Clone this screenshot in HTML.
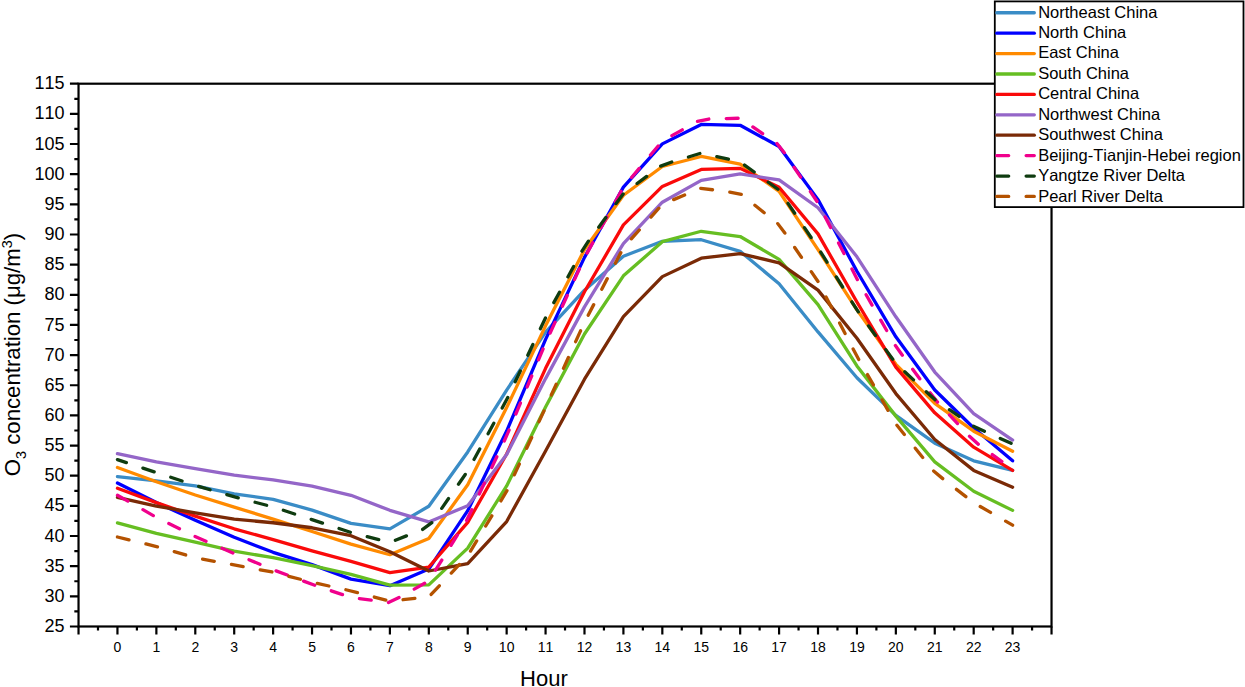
<!DOCTYPE html>
<html><head><meta charset="utf-8"><title>O3 diurnal variation</title>
<style>html,body{margin:0;padding:0;background:#fff;overflow:hidden}svg{display:block}text{font-kerning:none}</style>
</head><body>
<svg width="1245" height="687" viewBox="0 0 1245 687">
<rect x="0" y="0" width="1245" height="687" fill="#fff"/>
<polyline points="117.45,476.68 156.37,480.90 195.29,485.97 234.21,493.81 273.13,499.30 312.05,510.09 350.97,523.36 389.89,528.85 428.81,506.29 467.73,451.95 506.65,390.07 545.57,332.18 584.49,290.20 623.41,256.19 662.33,241.29 701.25,239.72 740.17,251.36 779.09,283.69 818.01,331.94 856.93,377.71 895.85,415.40 934.77,443.21 973.69,460.82 1012.61,470.41" fill="none" stroke="#3a8cc6" stroke-width="3.3" stroke-linejoin="round" stroke-linecap="round"/>
<polyline points="117.45,483.07 156.37,502.49 195.29,520.34 234.21,537.23 273.13,552.31 312.05,564.67 350.97,579.15 389.89,585.66 428.81,569.07 467.73,510.69 506.65,431.09 545.57,339.41 584.49,257.39 623.41,187.13 662.33,143.89 701.25,124.41 740.17,125.31 779.09,146.48 818.01,199.62 856.93,271.26 895.85,336.82 934.77,389.95 973.69,428.01 1012.61,460.82" fill="none" stroke="#0000ff" stroke-width="3.3" stroke-linejoin="round" stroke-linecap="round"/>
<polyline points="117.45,467.57 156.37,481.75 195.29,495.01 234.21,507.08 273.13,519.14 312.05,531.50 350.97,544.17 389.89,554.72 428.81,538.44 467.73,484.76 506.65,407.56 545.57,325.84 584.49,249.55 623.41,195.27 662.33,166.51 701.25,156.49 740.17,164.03 779.09,191.35 818.01,249.55 856.93,309.86 895.85,364.32 934.77,403.34 973.69,431.21 1012.61,451.17" fill="none" stroke="#ff8a00" stroke-width="3.3" stroke-linejoin="round" stroke-linecap="round"/>
<polyline points="117.45,522.88 156.37,533.31 195.29,542.06 234.21,551.10 273.13,557.74 312.05,565.64 350.97,574.32 389.89,585.18 428.81,584.88 467.73,548.09 506.65,485.97 545.57,406.96 584.49,333.99 623.41,275.85 662.33,241.71 701.25,231.28 740.17,236.53 779.09,259.38 818.01,304.68 856.93,365.95 895.85,416.13 934.77,461.90 973.69,491.21 1012.61,510.39" fill="none" stroke="#66be22" stroke-width="3.3" stroke-linejoin="round" stroke-linecap="round"/>
<polyline points="117.45,488.20 156.37,502.67 195.29,516.12 234.21,528.79 273.13,539.64 312.05,550.80 350.97,561.36 389.89,572.63 428.81,567.02 467.73,522.33 506.65,454.00 545.57,368.36 584.49,291.77 623.41,224.95 662.33,186.41 701.25,169.40 740.17,168.38 779.09,187.25 818.01,233.93 856.93,302.02 895.85,367.16 934.77,412.81 973.69,447.19 1012.61,470.41" fill="none" stroke="#fa0a0a" stroke-width="3.3" stroke-linejoin="round" stroke-linecap="round"/>
<polyline points="117.45,453.70 156.37,461.90 195.29,468.72 234.21,475.11 273.13,479.94 312.05,486.09 350.97,495.32 389.89,510.33 428.81,521.91 467.73,505.69 506.65,454.61 545.57,378.62 584.49,306.85 623.41,243.52 662.33,202.21 701.25,180.32 740.17,173.92 779.09,179.95 818.01,207.76 856.93,256.79 895.85,316.80 934.77,372.04 973.69,413.60 1012.61,440.01" fill="none" stroke="#9466c8" stroke-width="3.3" stroke-linejoin="round" stroke-linecap="round"/>
<polyline points="117.45,497.43 156.37,506.05 195.29,512.81 234.21,519.14 273.13,522.76 312.05,527.76 350.97,535.72 389.89,551.71 428.81,571.00 467.73,563.71 506.65,521.55 545.57,450.99 584.49,379.22 623.41,316.62 662.33,276.63 701.25,258.18 740.17,253.53 779.09,262.88 818.01,290.14 856.93,338.21 895.85,393.57 934.77,439.53 973.69,470.41 1012.61,487.17" fill="none" stroke="#7a2a06" stroke-width="3.3" stroke-linejoin="round" stroke-linecap="round"/>
<path d="M117.45 495.20L127.79 501.08M142.95 509.69L153.29 515.58M168.81 523.50L179.47 528.78M195.09 536.53L206.00 541.27M221.99 548.21L232.91 552.95M248.98 559.69L259.96 564.29M276.08 570.90L287.24 575.04M303.57 581.12L314.75 585.19M331.25 590.82L342.51 594.66M359.39 598.65L371.19 600.20M388.47 602.48L399.03 597.57M414.25 589.08L424.65 583.28M435.51 570.21L441.81 560.11M451.03 545.32L457.32 535.22M466.55 520.43L471.85 509.79M479.28 494.03L484.35 483.26M491.77 467.49L496.84 456.73M504.27 440.96L509.09 430.08M515.83 414.01L520.43 403.03M527.16 386.95L531.76 375.98M538.50 359.90L543.10 348.93M550.15 332.99L555.09 322.16M562.32 306.30L567.26 295.48M574.49 279.62L579.43 268.79M587.02 253.11L592.76 242.69M601.18 227.43L606.93 217.01M615.35 201.75L621.10 191.33M631.56 177.47L639.23 168.38M650.47 155.05L658.14 145.96M671.88 135.65L682.26 129.84M697.47 121.34L708.82 119.02M726.24 118.56L738.14 118.25M752.85 126.94L762.64 133.69M776.99 143.59L784.31 152.80M794.03 167.26L800.67 177.14M810.39 191.60L817.03 201.48M825.17 216.88L830.60 227.47M838.55 242.98L843.99 253.57M851.94 269.08L857.41 279.64M866.11 294.75L872.05 305.06M880.74 320.17L886.68 330.48M895.38 345.59L902.34 355.23M912.68 369.26L919.74 378.84M930.08 392.87L937.50 402.15M949.41 414.88L957.55 423.56M969.46 436.28L978.29 444.19M992.30 454.55L1001.87 461.63" fill="none" stroke="#f0008c" stroke-width="3.3" stroke-linecap="round"/>
<path d="M117.45 459.61L126.37 462.58M142.90 468.09L154.19 471.85M170.75 477.30L182.06 481.02M198.65 486.35L210.06 489.71M226.78 494.64L238.23 497.87M255.10 502.26L266.62 505.26M283.31 510.27L294.62 513.95M311.20 519.34L322.50 523.07M339.05 528.53L350.35 532.26M367.22 536.65L378.74 539.61M395.39 540.29L406.45 535.88M422.64 529.44L431.81 522.66M441.74 508.34L448.53 498.56M458.47 484.24L465.25 474.47M474.01 459.42L479.72 448.97M488.08 433.68L493.79 423.24M502.15 407.95L507.73 397.44M515.20 381.70L520.31 370.94M527.78 355.20L532.88 344.45M540.35 328.70L545.45 317.95M553.80 302.65L559.51 292.21M567.88 276.92L573.59 266.48M581.95 251.18L588.40 241.22M598.74 227.18L605.79 217.59M616.12 203.55L623.17 193.97M637.10 183.52L646.67 176.45M660.69 166.09L671.77 162.03M688.45 156.98L699.84 153.54M716.82 156.62L728.43 159.22M744.54 165.04L754.17 172.03M768.26 182.28L777.89 189.28M788.02 203.36L794.68 213.22M804.44 227.66L811.10 237.52M820.72 252.06L827.03 262.14M836.29 276.92L842.61 287.00M851.86 301.77L858.31 311.77M868.54 325.88L875.53 335.51M885.76 349.62L892.74 359.25M904.76 371.78L913.50 379.86M926.29 391.70L935.06 399.74M949.41 409.64L959.20 416.39M973.55 426.29L984.38 431.22M1000.26 438.40L1011.10 443.31" fill="none" stroke="#0f3c10" stroke-width="3.3" stroke-linecap="round"/>
<path d="M117.45 536.99L129.01 539.82M145.94 543.96L157.49 546.84M174.23 551.67L185.67 554.96M202.58 559.09L214.28 561.27M231.42 564.45L243.12 566.63M260.25 569.82L271.95 571.99M288.84 576.28L300.36 579.26M317.28 583.43L328.91 585.99M345.93 589.74L357.48 592.57M374.33 597.04L385.84 600.09M403.05 599.73L414.88 598.45M431.16 594.45L439.32 585.80M451.28 573.12L459.45 564.46M470.51 551.10L476.67 540.92M485.70 526.01L491.86 515.83M500.89 500.92L506.97 490.70M514.31 474.89L519.32 464.09M526.66 448.29L531.68 437.49M539.02 421.68L544.03 410.89M551.28 395.04L556.22 384.21M563.45 368.36L568.39 357.53M575.62 341.67L580.56 330.84M588.18 315.17L593.69 304.62M601.76 289.18L607.27 278.63M615.34 263.18L620.85 252.63M631.36 238.87L639.30 230.01M650.94 217.03L658.88 208.17M673.66 199.63L684.65 195.08M700.76 188.42L712.52 189.74M729.79 192.06L741.28 194.36M754.88 205.27L764.16 212.72M777.75 223.63L784.84 233.10M794.69 247.48L801.42 257.30M811.27 271.68L818.00 281.50M826.05 296.96L831.54 307.51M839.59 322.97L845.08 333.53M853.13 348.99L858.75 359.47M867.44 374.58L873.38 384.90M882.07 400.01L888.00 410.32M896.91 425.28L904.35 434.56M915.27 448.16L922.71 457.44M933.62 471.03L942.72 478.64M956.48 489.34L965.87 496.65M980.21 506.49L990.52 512.43M1005.62 521.14L1012.61 525.17" fill="none" stroke="#b45200" stroke-width="3.3" stroke-linecap="round"/>
<rect x="78.53" y="83.70" width="973.00" height="542.79" fill="none" stroke="#000" stroke-width="2.2"/>
<path d="M69.93 626.49H78.53M69.93 596.34H78.53M69.93 566.18H78.53M69.93 536.02H78.53M69.93 505.87H78.53M69.93 475.71H78.53M69.93 445.56H78.53M69.93 415.40H78.53M69.93 385.25H78.53M69.93 355.09H78.53M69.93 324.94H78.53M69.93 294.78H78.53M69.93 264.63H78.53M69.93 234.48H78.53M69.93 204.32H78.53M69.93 174.16H78.53M69.93 144.01H78.53M69.93 113.86H78.53M69.93 83.70H78.53M74.33 611.41H78.53M74.33 581.26H78.53M74.33 551.10H78.53M74.33 520.95H78.53M74.33 490.79H78.53M74.33 460.64H78.53M74.33 430.48H78.53M74.33 400.33H78.53M74.33 370.17H78.53M74.33 340.02H78.53M74.33 309.86H78.53M74.33 279.71H78.53M74.33 249.55H78.53M74.33 219.40H78.53M74.33 189.24H78.53M74.33 159.09H78.53M74.33 128.93H78.53M74.33 98.78H78.53M78.53 626.49V634.49M117.45 626.49V634.49M156.37 626.49V634.49M195.29 626.49V634.49M234.21 626.49V634.49M273.13 626.49V634.49M312.05 626.49V634.49M350.97 626.49V634.49M389.89 626.49V634.49M428.81 626.49V634.49M467.73 626.49V634.49M506.65 626.49V634.49M545.57 626.49V634.49M584.49 626.49V634.49M623.41 626.49V634.49M662.33 626.49V634.49M701.25 626.49V634.49M740.17 626.49V634.49M779.09 626.49V634.49M818.01 626.49V634.49M856.93 626.49V634.49M895.85 626.49V634.49M934.77 626.49V634.49M973.69 626.49V634.49M1012.61 626.49V634.49M1051.53 626.49V634.49M97.99 626.49V630.49M136.91 626.49V630.49M175.83 626.49V630.49M214.75 626.49V630.49M253.67 626.49V630.49M292.59 626.49V630.49M331.51 626.49V630.49M370.43 626.49V630.49M409.35 626.49V630.49M448.27 626.49V630.49M487.19 626.49V630.49M526.11 626.49V630.49M565.03 626.49V630.49M603.95 626.49V630.49M642.87 626.49V630.49M681.79 626.49V630.49M720.71 626.49V630.49M759.63 626.49V630.49M798.55 626.49V630.49M837.47 626.49V630.49M876.39 626.49V630.49M915.31 626.49V630.49M954.23 626.49V630.49M993.15 626.49V630.49M1032.07 626.49V630.49" stroke="#000" stroke-width="2.2" fill="none"/>
<g font-family="Liberation Sans, sans-serif" font-size="18" fill="#000"><text x="64.45" y="632.09" text-anchor="end">25</text><text x="64.45" y="601.94" text-anchor="end">30</text><text x="64.45" y="571.78" text-anchor="end">35</text><text x="64.45" y="541.62" text-anchor="end">40</text><text x="64.45" y="511.47" text-anchor="end">45</text><text x="64.45" y="481.31" text-anchor="end">50</text><text x="64.45" y="451.16" text-anchor="end">55</text><text x="64.45" y="421.00" text-anchor="end">60</text><text x="64.45" y="390.85" text-anchor="end">65</text><text x="64.45" y="360.69" text-anchor="end">70</text><text x="64.45" y="330.54" text-anchor="end">75</text><text x="64.45" y="300.38" text-anchor="end">80</text><text x="64.45" y="270.23" text-anchor="end">85</text><text x="64.45" y="240.08" text-anchor="end">90</text><text x="64.45" y="209.92" text-anchor="end">95</text><text x="64.45" y="179.76" text-anchor="end">100</text><text x="64.45" y="149.61" text-anchor="end">105</text><text x="64.45" y="119.45" text-anchor="end">110</text><text x="64.45" y="89.30" text-anchor="end">115</text></g>
<g font-family="Liberation Sans, sans-serif" font-size="14" fill="#000"><text x="117.45" y="651.7" text-anchor="middle">0</text><text x="156.37" y="651.7" text-anchor="middle">1</text><text x="195.29" y="651.7" text-anchor="middle">2</text><text x="234.21" y="651.7" text-anchor="middle">3</text><text x="273.13" y="651.7" text-anchor="middle">4</text><text x="312.05" y="651.7" text-anchor="middle">5</text><text x="350.97" y="651.7" text-anchor="middle">6</text><text x="389.89" y="651.7" text-anchor="middle">7</text><text x="428.81" y="651.7" text-anchor="middle">8</text><text x="467.73" y="651.7" text-anchor="middle">9</text><text x="506.65" y="651.7" text-anchor="middle">10</text><text x="545.57" y="651.7" text-anchor="middle">11</text><text x="584.49" y="651.7" text-anchor="middle">12</text><text x="623.41" y="651.7" text-anchor="middle">13</text><text x="662.33" y="651.7" text-anchor="middle">14</text><text x="701.25" y="651.7" text-anchor="middle">15</text><text x="740.17" y="651.7" text-anchor="middle">16</text><text x="779.09" y="651.7" text-anchor="middle">17</text><text x="818.01" y="651.7" text-anchor="middle">18</text><text x="856.93" y="651.7" text-anchor="middle">19</text><text x="895.85" y="651.7" text-anchor="middle">20</text><text x="934.77" y="651.7" text-anchor="middle">21</text><text x="973.69" y="651.7" text-anchor="middle">22</text><text x="1012.61" y="651.7" text-anchor="middle">23</text></g>
<text x="543.9" y="685.7" text-anchor="middle" font-family="Liberation Sans, sans-serif" font-size="22" fill="#000">Hour</text>
<text transform="translate(20.0,476.3) rotate(-90)" font-family="Liberation Sans, sans-serif" font-size="22.2" fill="#000">O<tspan font-size="14.5" dy="6">3</tspan><tspan dy="-6"> concentration (μg/m</tspan><tspan font-size="14.5" dy="-8.5">3</tspan><tspan dy="8.5">)</tspan></text>
<rect x="994.8" y="1.4" width="248.7" height="205.7" fill="#fff" stroke="#000" stroke-width="1.8"/>
<g font-family="Liberation Sans, sans-serif" font-size="16.5" fill="#000"><path d="M996.8 12.75H1034.3" stroke="#3a8cc6" stroke-width="3.3" stroke-linecap="round"/><text x="1038.2" y="17.55">Northeast China</text><path d="M996.8 33.16H1034.3" stroke="#0000ff" stroke-width="3.3" stroke-linecap="round"/><text x="1038.2" y="38.02">North China</text><path d="M996.8 53.57H1034.3" stroke="#ff8a00" stroke-width="3.3" stroke-linecap="round"/><text x="1038.2" y="58.49">East China</text><path d="M996.8 73.98H1034.3" stroke="#66be22" stroke-width="3.3" stroke-linecap="round"/><text x="1038.2" y="78.96">South China</text><path d="M996.8 94.39H1034.3" stroke="#fa0a0a" stroke-width="3.3" stroke-linecap="round"/><text x="1038.2" y="99.43">Central China</text><path d="M996.8 114.80H1034.3" stroke="#9466c8" stroke-width="3.3" stroke-linecap="round"/><text x="1038.2" y="119.90">Northwest China</text><path d="M996.8 135.21H1034.3" stroke="#7a2a06" stroke-width="3.3" stroke-linecap="round"/><text x="1038.2" y="140.37">Southwest China</text><path d="M996.8 155.62H1034.3" stroke="#f0008c" stroke-width="3.3" stroke-linecap="round" stroke-dasharray="11.9 17.43"/><text x="1038.2" y="160.84">Beijing-Tianjin-Hebei region</text><path d="M996.8 176.03H1034.3" stroke="#0f3c10" stroke-width="3.3" stroke-linecap="round" stroke-dasharray="11.9 17.43"/><text x="1038.2" y="181.31">Yangtze River Delta</text><path d="M996.8 196.44H1034.3" stroke="#b45200" stroke-width="3.3" stroke-linecap="round" stroke-dasharray="11.9 17.43"/><text x="1038.2" y="201.78">Pearl River Delta</text></g>
</svg>
</body></html>
